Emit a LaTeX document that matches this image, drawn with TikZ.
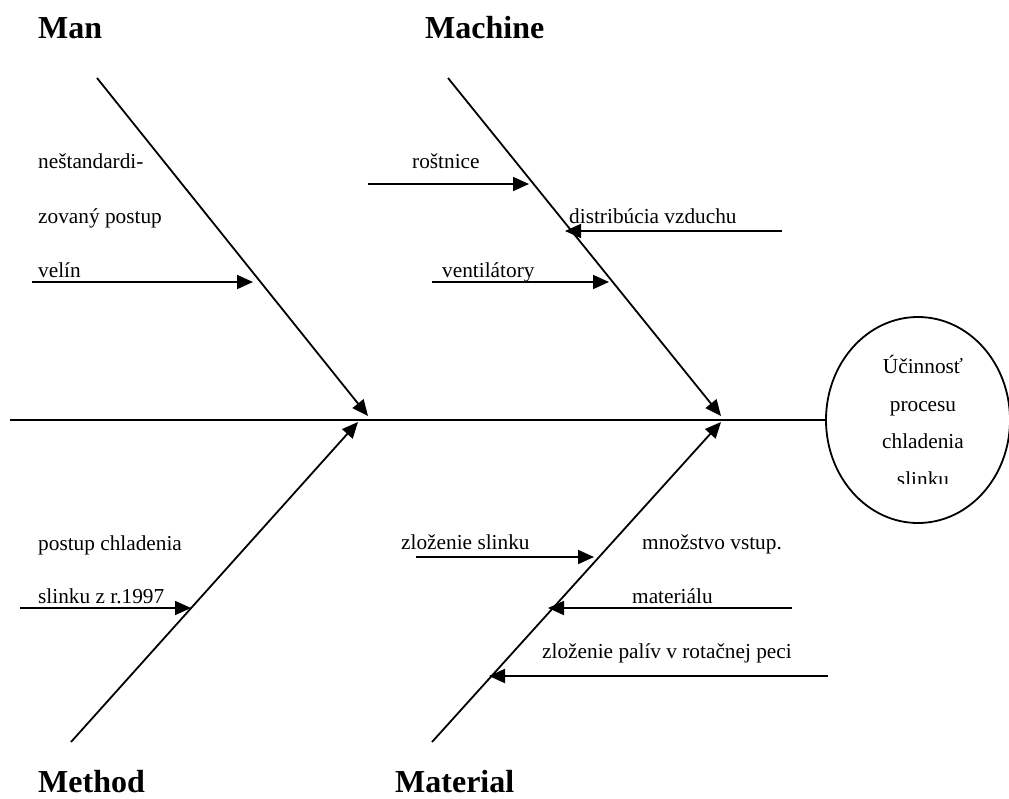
\documentclass[tikz,border=0pt]{standalone}
\usepackage{fontspec}
\setmainfont{Liberation Serif}
\usetikzlibrary{arrows.meta,shapes.geometric}

\tikzset{
  bone/.style={line width=1.8pt,-{Triangle[length=16pt,width=14pt]}},
  twig/.style={line width=1.8pt,-{Triangle[length=16pt,width=14pt]}},
  spine/.style={line width=1.8pt},
  cause/.style={anchor=base west,inner sep=0pt,font=\fontsize{21.3}{25}\selectfont},
  category/.style={anchor=base west,inner sep=0pt,font=\fontsize{32}{36}\selectfont\bfseries},
  efftext/.style={anchor=base,inner sep=0pt,font=\fontsize{21.3}{25}\selectfont}
}

\begin{document}
\begin{tikzpicture}[x=1pt,y=-1pt]
\useasboundingbox (0,0) rectangle (1009,798);

% effect (head of the fish)
\node[draw,ellipse,line width=1.8pt,minimum width=184pt,minimum height=206pt,inner sep=0pt] (effect) at (918,420) {};
\begin{scope}
  \clip (826,316) rectangle (1009,483);
  \node[efftext] (eff1) at (923,373) {Účinnosť};
  \node[efftext] (eff2) at (923,411) {procesu};
  \node[efftext] (eff3) at (923,448) {chladenia};
  \node[efftext] (eff4) at (923,486) {slinku};
\end{scope}

% spine
\coordinate (tail) at (10,420);
\draw[spine] (tail) -- (effect.west);

% category headings
\node[category] (man) at (38,38) {Man};
\node[category] (machine) at (425,38) {Machine};
\node[category] (method) at (38,792) {Method};
\node[category] (material) at (395,792) {Material};

% main bones
\coordinate (manS) at (97,78);     \coordinate (manT) at (368,416);
\coordinate (macS) at (448,78);    \coordinate (macT) at (721,416);
\coordinate (metS) at (71,742);    \coordinate (metT) at (358,422);
\coordinate (matS) at (432,742);   \coordinate (matT) at (721,422);
\draw[bone] (manS) -- (manT);
\draw[bone] (macS) -- (macT);
\draw[bone] (metS) -- (metT);
\draw[bone] (matS) -- (matT);

% Man causes
\node[cause] (c1) at (38,168) {neštandardi-};
\node[cause] (c2) at (38,223) {zovaný postup};
\node[cause] (c3) at (38,277) {velín};
\coordinate (a1) at (32,282);  \coordinate (b1) at (253,282);
\draw[twig] (a1) -- (b1);

% Machine causes
\node[cause] (c4) at (412,168) {roštnice};
\coordinate (a2) at (368,184); \coordinate (b2) at (529,184);
\draw[twig] (a2) -- (b2);
\node[cause] (c5) at (569,223) {distribúcia vzduchu};
\coordinate (a3) at (782,231); \coordinate (b3) at (565,231);
\draw[twig] (a3) -- (b3);
\node[cause] (c6) at (442,277) {ventilátory};
\coordinate (a4) at (432,282); \coordinate (b4) at (609,282);
\draw[twig] (a4) -- (b4);

% Method causes
\node[cause] (c7) at (38,550) {postup chladenia};
\node[cause] (c8) at (38,603) {slinku z r.1997};
\coordinate (a5) at (20,608);  \coordinate (b5) at (191,608);
\draw[twig] (a5) -- (b5);

% Material causes
\node[cause] (c9) at (401,549) {zloženie slinku};
\coordinate (a6) at (416,557); \coordinate (b6) at (594,557);
\draw[twig] (a6) -- (b6);
\node[cause] (c10) at (642,549) {množstvo vstup.};
\node[cause] (c11) at (632,603) {materiálu};
\coordinate (a7) at (792,608); \coordinate (b7) at (548,608);
\draw[twig] (a7) -- (b7);
\node[cause] (c12) at (542,658) {zloženie palív v rotačnej peci};
\coordinate (a8) at (828,676); \coordinate (b8) at (489,676);
\draw[twig] (a8) -- (b8);
\end{tikzpicture}
\end{document}
